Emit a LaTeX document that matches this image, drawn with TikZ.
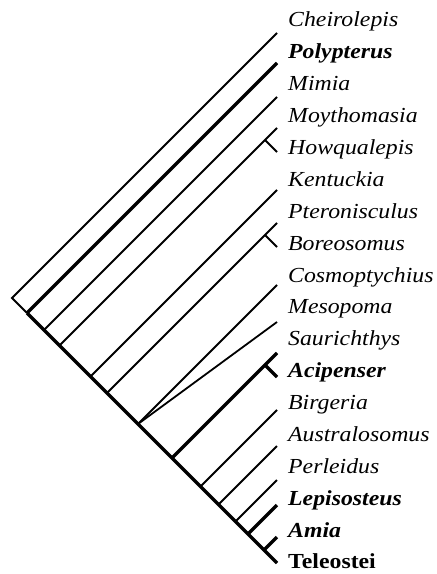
\documentclass[tikz,border=0pt]{standalone}
\usepackage{fontspec}
\setmainfont{Liberation Serif}[FakeStretch=1.11]

\tikzset{
  thinbr/.style={line width=1.8bp, line cap=butt},
  thickbr/.style={line width=3.5bp, line cap=butt},
  taxon/.style={anchor=base west, inner sep=0pt, font=\fontsize{21.5}{24}\selectfont},
  ital/.style={taxon, font=\fontsize{21.5}{24}\selectfont\itshape},
  boldital/.style={taxon, font=\fontsize{21.5}{24}\selectfont\bfseries\itshape},
  bold/.style={taxon, font=\fontsize{21.5}{24}\selectfont\bfseries}
}

\begin{document}
\begin{tikzpicture}[x=1bp,y=-1bp]
\useasboundingbox (0,0) rectangle (437,574);

% Taxa
\foreach \name/\sty [count=\i from 0] in {
  Cheirolepis/ital, Polypterus/boldital, Mimia/ital, Moythomasia/ital,
  Howqualepis/ital, Kentuckia/ital, Pteronisculus/ital, Boreosomus/ital,
  Cosmoptychius/ital, Mesopoma/ital, Saurichthys/ital, Acipenser/boldital,
  Birgeria/ital, Australosomus/ital, Perleidus/ital, Lepisosteus/boldital,
  Amia/boldital, Teleostei/bold}
  \node[\sty] (\name) at (288,{27+31.88*\i}) {\name};

% Nodes on the spine
\coordinate (root) at (12,298);
\coordinate (n1) at (27,313);
\coordinate (n2) at (44,330);
\coordinate (n3) at (59.5,345.5);
\coordinate (n4) at (90.5,376.5);
\coordinate (n5) at (107,393);
\coordinate (n6) at (138,424);
\coordinate (n7) at (172,458);
\coordinate (n8) at (200.5,486.5);
\coordinate (n9) at (218.5,504.5);
\coordinate (n10) at (235.5,521.5);
\coordinate (n11) at (248,534);
\coordinate (n12) at (264,550);

% Tips
\coordinate (tCheirolepis) at (277,33);
\coordinate (tPolypterus) at (277,63);
\coordinate (tMimia) at (277,97);
\coordinate (tMoythomasia) at (277,128);
\coordinate (sHowqualepis) at (265,140);
\coordinate (tHowqualepis) at (277,152);
\coordinate (tKentuckia) at (277,190);
\coordinate (tPteronisculus) at (277,223);
\coordinate (sBoreosomus) at (265,235);
\coordinate (tBoreosomus) at (277,247);
\coordinate (tCosmoptychius) at (277,285);
\coordinate (tMesopoma) at (277,322);
\coordinate (tSaurichthys) at (277,353);
\coordinate (sAcipenser) at (265,365);
\coordinate (tAcipenser) at (277,377);
\coordinate (tBirgeria) at (277,410);
\coordinate (tAustralosomus) at (277,446);
\coordinate (tPerleidus) at (277,480);
\coordinate (tLepisosteus) at (277,505);
\coordinate (tAmia) at (277,537);
\coordinate (tTeleostei) at (277,563);

% Spine
\draw[thinbr] (tCheirolepis) -- (root) -- (n1);
\draw[thickbr] (n1) -- (tTeleostei);

% Branches
\draw[thickbr] (n1) -- (tPolypterus);
\draw[thinbr] (n2) -- (tMimia);
\draw[thinbr] (n3) -- (tMoythomasia);
\draw[thinbr] (sHowqualepis) -- (tHowqualepis);
\draw[thinbr] (n4) -- (tKentuckia);
\draw[thinbr] (n5) -- (tPteronisculus);
\draw[thinbr] (sBoreosomus) -- (tBoreosomus);
\draw[thinbr] (n6) -- (tCosmoptychius);
\draw[thinbr] (n6) -- (tMesopoma);
\draw[thickbr] (n7) -- (tSaurichthys);
\draw[thickbr] (sAcipenser) -- (tAcipenser);
\draw[thinbr] (n8) -- (tBirgeria);
\draw[thinbr] (n9) -- (tAustralosomus);
\draw[thinbr] (n10) -- (tPerleidus);
\draw[thickbr] (n11) -- (tLepisosteus);
\draw[thickbr] (n12) -- (tAmia);

\end{tikzpicture}
\end{document}
